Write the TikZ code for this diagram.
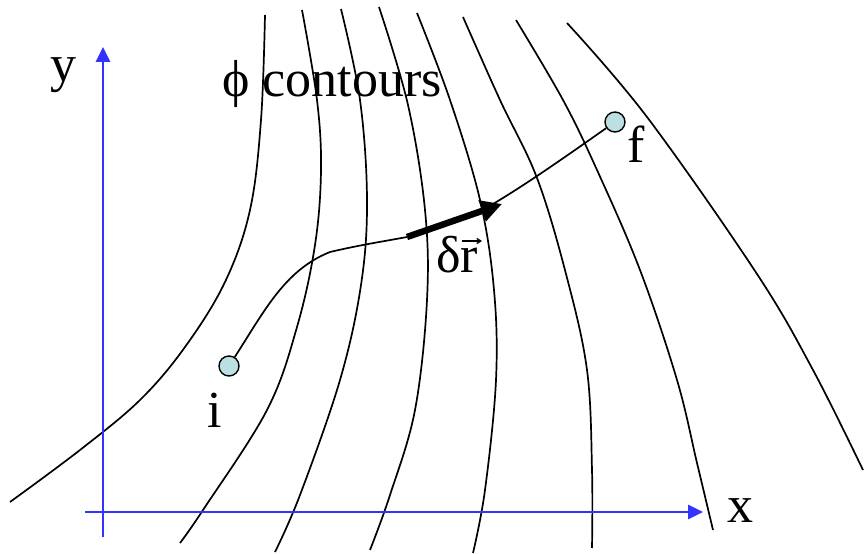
\documentclass[tikz,border=0pt]{standalone}
\usepackage{fontspec}
\setmainfont{Liberation Serif}
\usetikzlibrary{arrows.meta}
\definecolor{axisblue}{RGB}{51,51,255}
\definecolor{ptfill}{RGB}{188,224,226}
\tikzset{
  contour/.style={line width=1.7bp, black},
  axis/.style={line width=2.6bp, axisblue, -{Triangle[length=15bp,width=14bp]}},
  pathline/.style={line width=1.7bp, black},
  endpt/.style={circle, draw=black, line width=1.4bp, fill=ptfill, minimum size=20bp, inner sep=0pt},
  lbl/.style={anchor=base west, inner sep=0pt, font=\fontsize{52bp}{60bp}\selectfont},
}
\begin{document}
\begin{tikzpicture}[x=1bp,y=-1bp]
\useasboundingbox (0,0) rectangle (864,554);
% contours
\draw[contour] plot[smooth, tension=0.6] coordinates {(265,15) (261,120) (250,210) (225,282) (185,347) (140,400) (80,450) (10,502)};
\draw[contour] plot[smooth, tension=0.6] coordinates {(302,10) (317,100) (321,170) (315,245) (297,327) (267,410) (203,510) (180,543)};
\draw[contour] plot[smooth, tension=0.6] coordinates {(341,9) (360,100) (367,200) (361,285) (340,380) (300,495) (275,552)};
\draw[contour] plot[smooth, tension=0.6] coordinates {(379,7) (408,105) (425,210) (427,300) (415,410) (390,495) (370,550)};
\draw[contour] plot[smooth, tension=0.6] coordinates {(417,13) (450,100) (480,200) (494,290) (496,380) (485,490) (473,553)};
\draw[contour] plot[smooth, tension=0.6] coordinates {(463,17) (500,100) (537,178) (566,274) (587,370) (592,470) (592,548)};
\draw[contour] plot[smooth, tension=0.6] coordinates {(516,20) (563,100) (597,170) (640,270) (677,380) (697,463) (713,530)};
\draw[contour] plot[smooth, tension=0.6] coordinates {(567,23) (647,117) (757,274) (813,370) (863,470)};
% axes
\coordinate (yb) at (103,537);
\coordinate (yt) at (103,47);
\coordinate (xl) at (85,512);
\coordinate (xr) at (703,512);
\draw[axis] (yb) -- (yt);
\draw[axis] (xl) -- (xr);
% path
\node[endpt] (i) at (229,366) {};
\node[endpt] (f) at (615,122) {};
\coordinate (r0) at (407,237);
\coordinate (r1) at (502,204);
\coordinate (rm) at (493,204);
\draw[pathline] (i) .. controls (265,310) and (285,270) .. (330,252) .. controls (360,245) and (380,242) .. (r0);
\draw[pathline] (rm) .. controls (530,182) and (575,150) .. (f);
\draw[line width=6.5bp, -{Triangle[length=21bp,width=21bp]}] (r0) -- (r1);
% labels
\node[lbl] (ylab) at (50,82) {y};
\node[lbl] (xlab) at (727,522) {x};
\node[lbl] (ilab) at (207,427) {i};
\node[lbl] (flab) at (627,163) {f};
\node[lbl] (title) at (222,97) {ϕ contours};
\node[lbl] (dr) at (436,273) {δr};
\coordinate (va) at (462,241);
\coordinate (vb) at (482,241);
\draw[line width=1.3bp, -{Straight Barb[length=4bp,width=5bp]}] (va) -- (vb);
\end{tikzpicture}
\end{document}
